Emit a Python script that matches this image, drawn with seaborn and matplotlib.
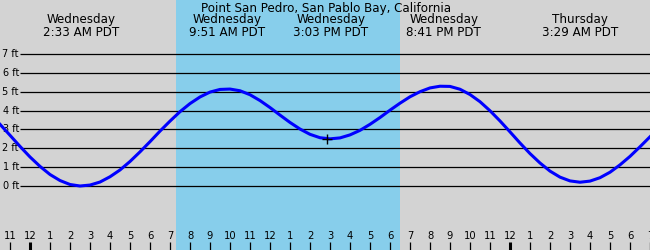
import numpy as np
import pandas as pd
import matplotlib
matplotlib.use("Agg")
import matplotlib.pyplot as plt
import seaborn as sns

# ---- data ----
title = "Point San Pedro, San Pablo Bay, California"
# hours since Wednesday 00:00, sampled every half hour
sample_hours = np.arange(-1.5, 31.01, 0.5)
heights_ft = [3.27, 2.69, 2.10, 1.54, 1.04, 0.61, 0.29, 0.08, 0.00,
              0.05, 0.21, 0.49, 0.85, 1.30, 1.81, 2.35, 2.91, 3.44, 3.94, 4.37, 4.72, 4.98, 5.12,
              5.14, 5.05, 4.84, 4.53, 4.16, 3.76, 3.37, 3.02, 2.74, 2.56, 2.50,
              2.55, 2.71, 2.95, 3.27, 3.63, 4.02, 4.39, 4.73, 5.00, 5.20, 5.29,
              5.28, 5.13, 4.85, 4.47, 3.99, 3.45, 2.87, 2.28, 1.72, 1.22, 0.79, 0.47, 0.27, 0.20,
              0.26, 0.44, 0.73, 1.12, 1.57, 2.08, 2.61]

event_hours = [2.55, 9.85, 15.05, 20.683, 27.483]
event_days = ["Wednesday", "Wednesday", "Wednesday", "Wednesday", "Thursday"]
event_times = ["2:33 AM PDT", "9:51 AM PDT", "3:03 PM PDT", "8:41 PM PDT", "3:29 AM PDT"]

daylight_start, daylight_end = 7.275, 18.5
marker_hour, marker_height = 14.87, 2.50

ft_levels = [0, 1, 2, 3, 4, 5, 6, 7]
ft_labels = ["0 ft", "1 ft", "2 ft", "3 ft", "4 ft", "5 ft", "6 ft", "7 ft"]

hour_ticks = list(range(-1, 32))
hour_labels = ["11", "12", "1", "2", "3", "4", "5", "6", "7", "8", "9", "10", "11",
               "12", "1", "2", "3", "4", "5", "6", "7", "8", "9", "10", "11",
               "12", "1", "2", "3", "4", "5", "6", "7"]
midnights = [0, 24]

# ---- drawing ----
df = pd.DataFrame({"hour": sample_hours, "height": heights_ft})

fig = plt.figure(figsize=(6.5, 2.5), dpi=100)
ax = fig.add_axes([0, 0, 1, 1])
ax.set_facecolor("#D3D3D3")
px_per_ft = 18.86
ax.set_xlim(-1.5, 31)
ax.set_ylim(-64 / px_per_ft, 186 / px_per_ft)
for s in ax.spines.values():
    s.set_visible(False)
ax.set_xticks([])
ax.set_yticks([])

ax.axvspan(daylight_start, daylight_end, color="#87CEEB", zorder=0, lw=0)

ax.hlines(ft_levels, -0.5, 31, colors="black", lw=0.9, zorder=1)
for lvl, lab in zip(ft_levels, ft_labels):
    ax.text(-0.55, lvl, lab, ha="right", va="center", fontsize=7, color="black")

sns.lineplot(data=df, x="hour", y="height", ax=ax, color="#0000FF", lw=2.2, zorder=3)
ax.plot([marker_hour], [marker_height], marker="+", color="black", ms=7, mew=1, zorder=4)

trans = ax.get_xaxis_transform()
for h, lab in zip(hour_ticks, hour_labels):
    lw = 2.2 if h in midnights else 0.9
    ax.vlines(h, 0, 8.5 / 250, colors="black", lw=lw, transform=trans)
    ax.text(h, 11 / 250, lab, ha="center", va="baseline", fontsize=7.2, transform=trans)

ax.text(14.78, 1 - 11.7 / 250, title, ha="center", va="baseline", fontsize=8.6, transform=trans)
for h, d, t in zip(event_hours, event_days, event_times):
    ax.text(h, 1 - 23.5 / 250, d, ha="center", va="baseline", fontsize=8.6, transform=trans)
    ax.text(h, 1 - 35.7 / 250, t, ha="center", va="baseline", fontsize=8.6, transform=trans)

fig.savefig("out.png", dpi=100)
